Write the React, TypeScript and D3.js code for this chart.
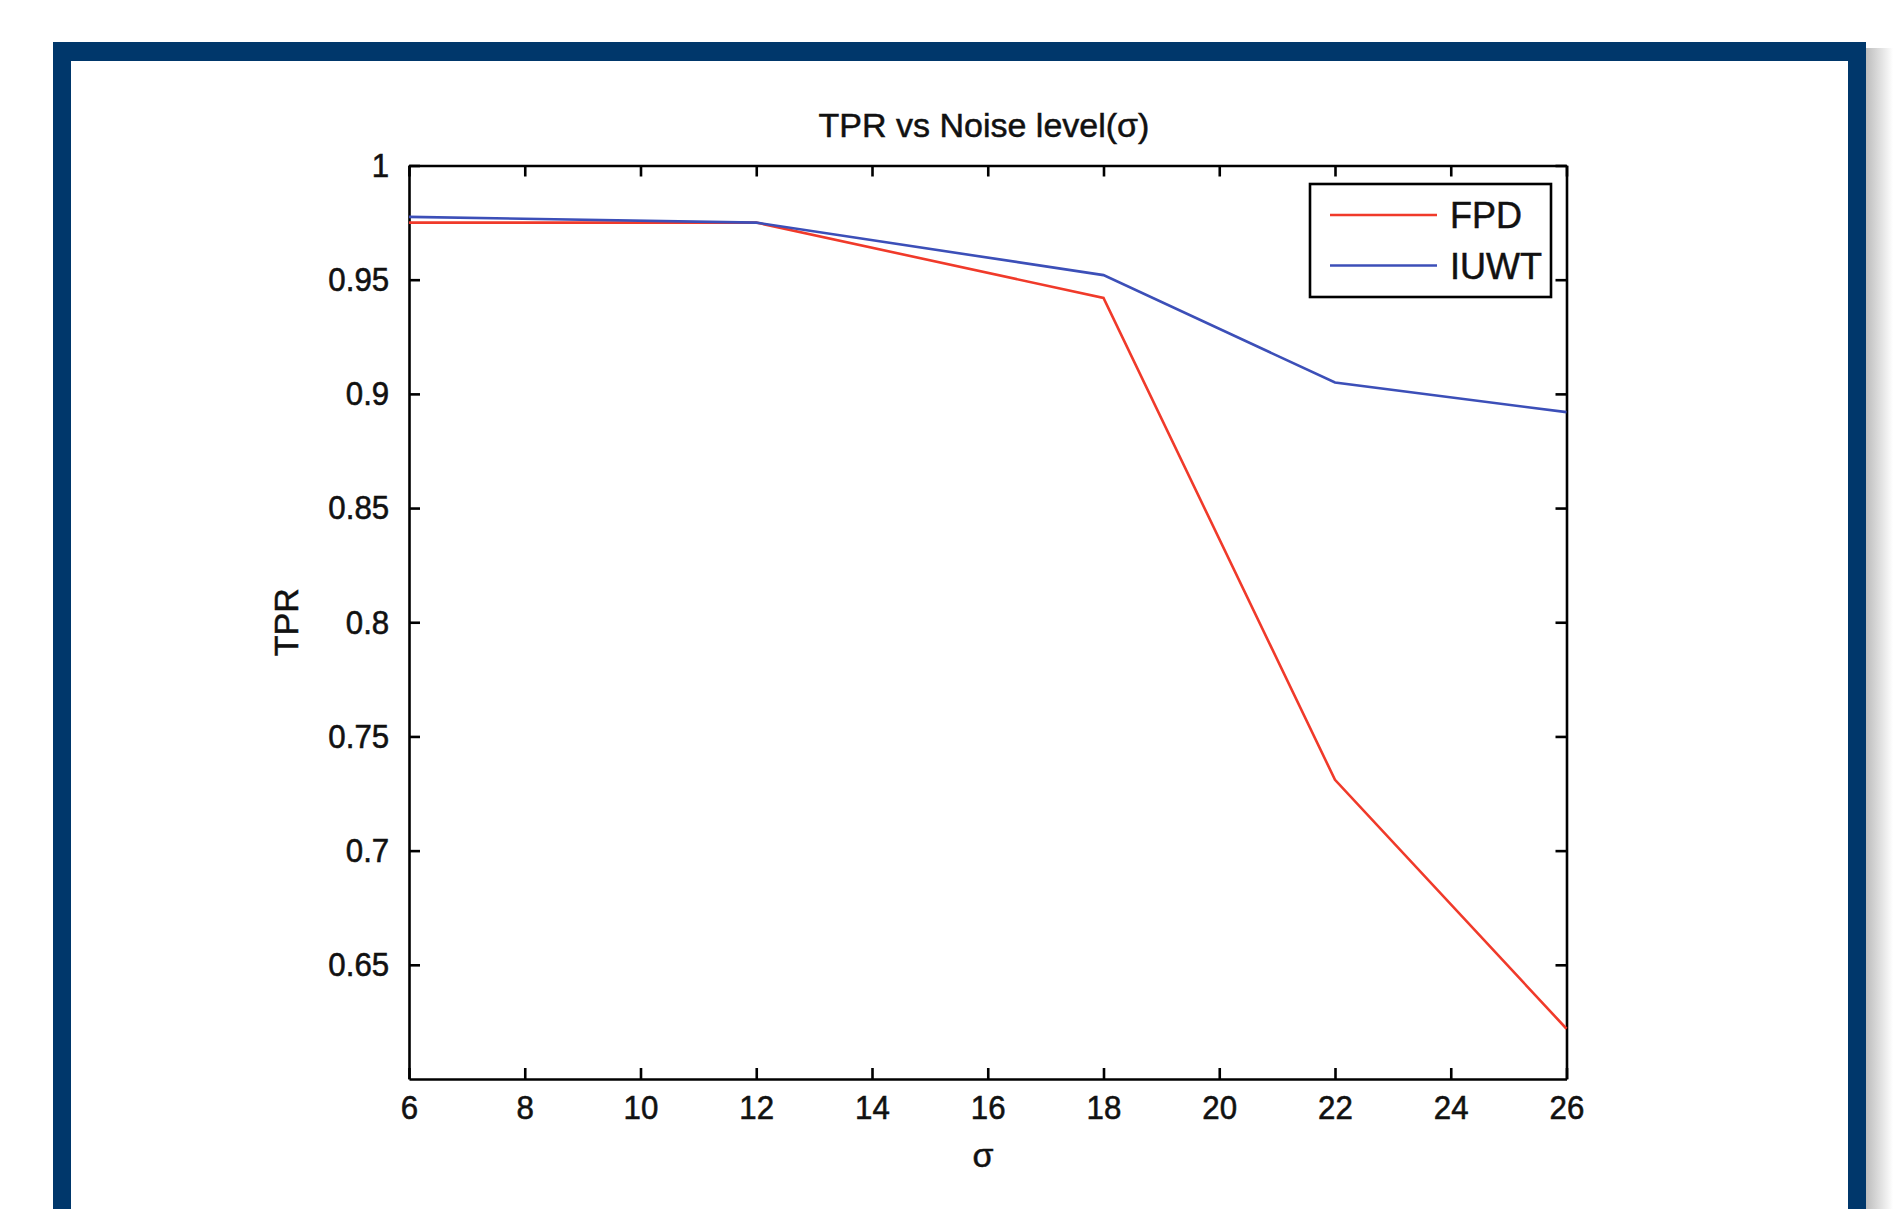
import React, { Component } from 'react';
import * as D3 from 'd3';

// noise level (sigma) where the curves change slope
const sigma = [6, 12, 18, 22, 26];
const fpd = [0.975, 0.975, 0.942, 0.731, 0.622];
const iuwt = [0.9775, 0.975, 0.952, 0.905, 0.892];

const seriesNames = ['FPD', 'IUWT'];
const xTicks = [6, 8, 10, 12, 14, 16, 18, 20, 22, 24, 26];
const yTicks = [0.65, 0.7, 0.75, 0.8, 0.85, 0.9, 0.95, 1];

export default class App extends Component
{
	svgNode: SVGSVGElement | null = null;

	render = () =>
	(
		<svg ref={e => { this.svgNode = e; }} width={1893} height={1209} style={{ position: 'absolute', left: 0, top: 0, background: '#fff' }} />
	)

	componentDidMount()
	{
		const svg = D3.select(this.svgNode);
		svg.selectAll('*').remove();

		const font = '"Liberation Sans", Arial, Helvetica, sans-serif';
		const colors = ['#f03a2a', '#3c4fb8'];

		// - Frame round the figure, with the grey shadow on the right
		const defs = svg.append('defs');
		const grad = defs.append('linearGradient').attr('id', 'shadow').attr('x1', '0%').attr('x2', '100%');
		grad.append('stop').attr('offset', '0%').attr('stop-color', '#bdbdbd');
		grad.append('stop').attr('offset', '100%').attr('stop-color', '#ffffff');

		svg.append('rect').attr('x', 1866).attr('y', 48).attr('width', 27).attr('height', 1200).attr('fill', 'url(#shadow)');
		svg.append('rect').attr('x', 53).attr('y', 42).attr('width', 1813).attr('height', 1200).attr('fill', '#00376b');
		svg.append('rect').attr('x', 71).attr('y', 61).attr('width', 1777).attr('height', 1200).attr('fill', '#ffffff');

		// - Scales
		const left = 409, right = 1566.5, top = 165.5, bottom = 1079;
		const x = D3.scaleLinear().domain([6, 26]).range([left, right]);
		const y = D3.scaleLinear().domain([0.6, 1]).range([bottom, top]);

		const axes = svg.append('g');

		axes.append('g')
			.attr('class', 'xaxis')
			.attr('transform', 'translate(0,' + bottom + ')')
			.call(D3.axisBottom(x).tickValues(xTicks).tickSizeInner(-11).tickSizeOuter(0).tickPadding(16).tickFormat(d => String(d)));

		axes.append('g')
			.attr('transform', 'translate(0,' + top + ')')
			.call(D3.axisTop(x).tickValues(xTicks).tickSizeInner(-11).tickSizeOuter(0).tickFormat(() => ''));

		axes.append('g')
			.attr('class', 'yaxis')
			.attr('transform', 'translate(' + left + ',0)')
			.call(D3.axisLeft(y).tickValues(yTicks).tickSizeInner(-11).tickSizeOuter(0).tickPadding(21.5).tickFormat(d => String(d)));

		axes.append('g')
			.attr('transform', 'translate(' + right + ',0)')
			.call(D3.axisRight(y).tickValues(yTicks).tickSizeInner(-11).tickSizeOuter(0).tickFormat(() => ''));

		axes.selectAll('g')
			.attr('font-family', font)
			.attr('font-size', 34);
		axes.selectAll('path, line')
			.attr('stroke', '#000')
			.attr('stroke-width', 2.6);
		// matlab text comes out a little narrow and heavy
		axes.selectAll('text')
			.attr('fill', '#111')
			.attr('stroke', '#111')
			.attr('stroke-width', 0.6)
			.style('transform', 'scaleX(0.92)');

		// - Curves
		const line = D3.line<number>()
			.x((d, i) => x(sigma[i]))
			.y(d => y(d));

		[fpd, iuwt].forEach((values, i) =>
		{
			svg.append('path')
				.datum(values)
				.attr('d', line)
				.attr('fill', 'none')
				.attr('stroke', colors[i])
				.attr('stroke-width', 2.6);
		});

		// - Titles
		svg.append('text')
			.attr('x', 984).attr('y', 137)
			.attr('text-anchor', 'middle')
			.attr('font-family', font).attr('font-size', 34).attr('fill', '#111')
			.attr('stroke', '#111').attr('stroke-width', 0.5)
			.text('TPR vs Noise level(σ)');

		svg.append('text')
			.attr('transform', 'translate(298,' + ((top + bottom) / 2) + ') rotate(-90)')
			.attr('text-anchor', 'middle')
			.attr('font-family', font).attr('font-size', 34).attr('fill', '#111')
			.attr('stroke', '#111').attr('stroke-width', 0.5)
			.text('TPR');

		svg.append('text')
			.attr('x', 983).attr('y', 1167)
			.attr('text-anchor', 'middle')
			.attr('font-family', font).attr('font-size', 34).attr('fill', '#111')
			.attr('stroke', '#111').attr('stroke-width', 0.5)
			.text('σ');

		// - Legend
		const legend = svg.append('g');
		legend.append('rect')
			.attr('x', 1310).attr('y', 184).attr('width', 241).attr('height', 113)
			.attr('fill', '#fff').attr('stroke', '#000').attr('stroke-width', 2.6);

		seriesNames.forEach((name, i) =>
		{
			const ly = 215 + i * 50.5;
			legend.append('line')
				.attr('x1', 1330).attr('x2', 1437).attr('y1', ly).attr('y2', ly)
				.attr('stroke', colors[i]).attr('stroke-width', 2.6);
			legend.append('text')
				.attr('x', 1450).attr('y', ly + 13)
				.attr('font-family', font).attr('font-size', 36).attr('fill', '#111')
				.attr('stroke', '#111').attr('stroke-width', 0.5)
				.text(name);
		});
	}
}
